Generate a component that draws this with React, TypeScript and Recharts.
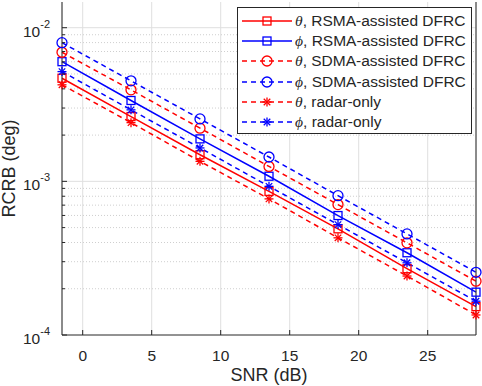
import React from 'react';
import { LineChart, Line, XAxis, YAxis, CartesianGrid, ReferenceLine, Legend, Label } from 'recharts';

const snr = [-1.5, 3.5, 8.5, 13.5, 18.5, 23.5, 28.5];

const thetaRsma = [4.69e-3, 2.64e-3, 1.49e-3, 8.6e-4, 4.91e-4, 2.7e-4, 1.53e-4];
const phiRsma = [6.01e-3, 3.36e-3, 1.89e-3, 1.08e-3, 5.99e-4, 3.43e-4, 1.9e-4];
const thetaSdma = [6.92e-3, 3.94e-3, 2.22e-3, 1.25e-3, 7.06e-4, 3.98e-4, 2.24e-4];
const phiSdma = [7.99e-3, 4.51e-3, 2.55e-3, 1.44e-3, 8.07e-4, 4.55e-4, 2.56e-4];
const thetaRadar = [4.25e-3, 2.41e-3, 1.35e-3, 7.69e-4, 4.29e-4, 2.42e-4, 1.35e-4];
const phiRadar = [5.18e-3, 2.92e-3, 1.65e-3, 9.28e-4, 5.23e-4, 2.95e-4, 1.66e-4];

const xTicks = [0, 5, 10, 15, 20, 25];
const yMajor = [1e-4, 1e-3, 1e-2];
const yMinor = [2e-4, 3e-4, 4e-4, 5e-4, 6e-4, 7e-4, 8e-4, 9e-4, 2e-3, 3e-3, 4e-3, 5e-3, 6e-3, 7e-3, 8e-3, 9e-3];
const yTicks = [...yMajor, ...yMinor].sort((a, b) => a - b);

const FONT = '"Liberation Sans", Arial, Helvetica, sans-serif';
const AXIS = '#262626';

const series = [
  { key: 'thetaRsma', sym: 'θ', name: ', RSMA-assisted DFRC', color: '#ff0000', dashed: false, marker: 'square', values: thetaRsma },
  { key: 'phiRsma', sym: 'ϕ', name: ', RSMA-assisted DFRC', color: '#0000ff', dashed: false, marker: 'square', values: phiRsma },
  { key: 'thetaSdma', sym: 'θ', name: ', SDMA-assisted DFRC', color: '#ff0000', dashed: true, marker: 'circle', values: thetaSdma },
  { key: 'phiSdma', sym: 'ϕ', name: ', SDMA-assisted DFRC', color: '#0000ff', dashed: true, marker: 'circle', values: phiSdma },
  { key: 'thetaRadar', sym: 'θ', name: ', radar-only', color: '#ff0000', dashed: true, marker: 'star', values: thetaRadar },
  { key: 'phiRadar', sym: 'ϕ', name: ', radar-only', color: '#0000ff', dashed: true, marker: 'star', values: phiRadar },
];

const data = snr.map((x, i) => {
  const row: any = { snr: x };
  series.forEach((s) => { row[s.key] = s.values[i]; });
  return row;
});

const isMajor = (v: number) => yMajor.some((m) => Math.abs(m - v) / m < 1e-6);

const Marker = ({ cx, cy, type, color }: any) => {
  if (type === 'square') {
    return <rect x={cx - 4} y={cy - 4} width={8} height={8} fill="none" stroke={color} strokeWidth={1.3} />;
  }
  if (type === 'circle') {
    return <circle cx={cx} cy={cy} r={5} fill="none" stroke={color} strokeWidth={1.3} />;
  }
  const r = 4.5;
  const d = r * 0.72;
  return (
    <g stroke={color} strokeWidth={1.3}>
      <line x1={cx - r} y1={cy} x2={cx + r} y2={cy} />
      <line x1={cx} y1={cy - r} x2={cx} y2={cy + r} />
      <line x1={cx - d} y1={cy - d} x2={cx + d} y2={cy + d} />
      <line x1={cx - d} y1={cy + d} x2={cx + d} y2={cy - d} />
    </g>
  );
};

const LeftTick = ({ x, y, payload }: any) => {
  const v = payload.value;
  const major = isMajor(v);
  const exp = Math.round(Math.log10(v));
  return (
    <g>
      <line x1={x} x2={x + (major ? 5 : 3)} y1={y} y2={y} stroke={AXIS} />
      {major && (
        <text x={x - 12} y={y + 9} textAnchor="end" fontFamily={FONT} fontSize={15.5} fill={AXIS}>
          <tspan>10</tspan>
          <tspan dy={-9} fontSize={11}>{exp}</tspan>
        </text>
      )}
    </g>
  );
};

const RightTick = ({ x, y, payload }: any) => {
  const major = isMajor(payload.value);
  return <line x1={x} x2={x - (major ? 5 : 3)} y1={y} y2={y} stroke={AXIS} />;
};

const BottomTick = ({ x, y, payload }: any) => (
  <g>
    <line x1={x} x2={x} y1={y} y2={y - 5} stroke={AXIS} />
    <text x={x} y={y + 26} textAnchor="middle" fontFamily={FONT} fontSize={15.5} fill={AXIS}>
      {payload.value}
    </text>
  </g>
);

const TopTick = ({ x, y }: any) => <line x1={x} x2={x} y1={y} y2={y + 5} stroke={AXIS} />;

const LegendBox = () => (
  <div
    style={{
      border: `1px solid ${AXIS}`,
      background: '#fff',
      boxSizing: 'border-box',
      width: '100%',
      height: '100%',
      paddingTop: 3,
    }}
  >
    {series.map((s) => (
      <div key={s.key} style={{ display: 'flex', alignItems: 'center', height: 20.2 }}>
        <svg width={57} height={20} style={{ display: 'block' }}>
          <line x1={4} x2={54} y1={10} y2={10} stroke={s.color} strokeWidth={1.5} strokeDasharray={s.dashed ? '5 4' : undefined} />
          <Marker cx={29} cy={10} type={s.marker} color={s.color} />
        </svg>
        <span style={{ fontFamily: FONT, fontSize: 15.5, color: AXIS, whiteSpace: 'nowrap', lineHeight: '20px' }}>
          <span style={{ fontFamily: '"Liberation Serif", "Times New Roman", serif', fontStyle: 'italic' }}>{s.sym}</span>
          {s.name}
        </span>
      </div>
    ))}
  </div>
);

export default function App() {
  return (
    <div style={{ position: 'absolute', left: 0, top: 0, width: 482, height: 386, background: '#fff' }}>
      <LineChart width={482} height={386} data={data} margin={{ top: 2, right: 0, bottom: 0, left: 0 }}>
        <CartesianGrid horizontal={false} stroke="#dfdfdf" strokeWidth={1} />
        {yMinor.map((v) => (
          <ReferenceLine key={`mn${v}`} y={v} stroke="#cfcfcf" strokeDasharray="1 2" />
        ))}
        {yMajor.slice(1).map((v) => (
          <ReferenceLine key={`mj${v}`} y={v} stroke="#dfdfdf" />
        ))}
        <XAxis
          dataKey="snr"
          type="number"
          domain={[-1.5, 28.5]}
          ticks={xTicks}
          interval={0}
          height={51}
          tickSize={0}
          tickMargin={0}
          tick={<BottomTick />}
          axisLine={{ stroke: AXIS }}
          tickLine={false}
        >
          <Label
            content={() => (
              <text x={269} y={381} textAnchor="middle" fontFamily={FONT} fontSize={18} fill={AXIS}>
                SNR (dB)
              </text>
            )}
          />
        </XAxis>
        <XAxis
          xAxisId="top"
          orientation="top"
          type="number"
          dataKey="snr"
          domain={[-1.5, 28.5]}
          ticks={xTicks}
          interval={0}
          height={0}
          tickSize={0}
          tickMargin={0}
          tick={<TopTick />}
          axisLine={{ stroke: AXIS }}
          tickLine={false}
        />
        <YAxis
          scale="log"
          type="number"
          domain={[1e-4, 0.0147]}
          ticks={yTicks}
          interval={0}
          width={62}
          tickSize={0}
          tickMargin={0}
          tick={<LeftTick />}
          axisLine={{ stroke: AXIS }}
          tickLine={false}
        >
          <Label
            content={() => (
              <text
                x={15}
                y={168.5}
                transform="rotate(-90, 15, 168.5)"
                textAnchor="middle"
                fontFamily={FONT}
                fontSize={18}
                fill={AXIS}
              >
                RCRB (deg)
              </text>
            )}
          />
        </YAxis>
        <YAxis
          yAxisId="right"
          orientation="right"
          scale="log"
          type="number"
          domain={[1e-4, 0.0147]}
          ticks={yTicks}
          interval={0}
          width={6}
          tickSize={0}
          tickMargin={0}
          tick={<RightTick />}
          axisLine={{ stroke: AXIS }}
          tickLine={false}
        />
        {series.map((s) => (
          <Line
            key={s.key}
            dataKey={s.key}
            stroke={s.color}
            strokeWidth={1.5}
            strokeDasharray={s.dashed ? '5 4' : undefined}
            isAnimationActive={false}
            dot={(p: any) => <Marker key={`${s.key}-${p.index}`} cx={p.cx} cy={p.cy} type={s.marker} color={s.color} />}
            activeDot={false}
          />
        ))}
        <Legend
          layout="vertical"
          align="center"
          verticalAlign="middle"
          content={<LegendBox />}
          wrapperStyle={{ position: 'absolute', left: 237, top: 7, width: 235, height: 127 }}
        />
      </LineChart>
    </div>
  );
}
